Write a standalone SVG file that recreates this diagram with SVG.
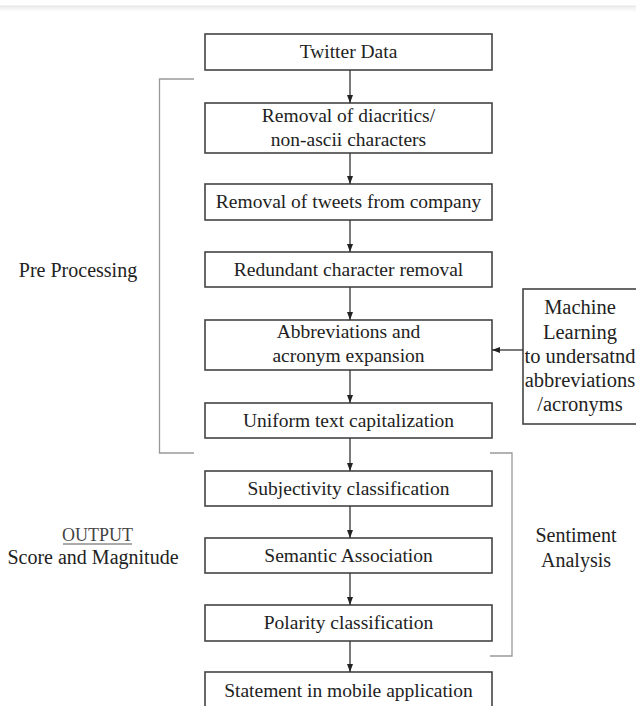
<svg xmlns="http://www.w3.org/2000/svg" width="636" height="706" viewBox="0 0 636 706">
<defs>
<linearGradient id="sh" x1="0" y1="0" x2="0" y2="1"><stop offset="0" stop-color="#ececec"/><stop offset="1" stop-color="#ffffff"/></linearGradient>
<marker id="ah" viewBox="0 0 8 6" refX="8" refY="3" markerWidth="8" markerHeight="6" markerUnits="userSpaceOnUse" orient="auto"><path d="M0,0 L8,3 L0,6 Z" fill="#222"/></marker>
<style>
.box{fill:#fff;stroke:#444;stroke-width:1.6}
.t{font-family:"Liberation Serif","Times New Roman",serif;font-size:19.5px;fill:#222;text-anchor:middle}
.ml{font-size:20.5px}
.c{stroke:#333;stroke-width:1.3;fill:none;marker-end:url(#ah)}
.br{stroke:#999;stroke-width:1.3;fill:none}
</style>
</defs>
<rect x="0" y="0" width="636" height="706" fill="#fff"/>
<rect x="0" y="6" width="636" height="6" fill="url(#sh)"/>
<line x1="0" y1="6" x2="636" y2="6" stroke="#e6e6e6" stroke-width="1"/>

<g id="n1"><rect class="box" x="205" y="34" width="287" height="36"/><text class="t" x="348.5" y="58">Twitter Data</text></g>
<g id="n2"><rect class="box" x="205" y="103" width="287" height="50"/><text class="t" x="348.5" y="122">Removal of diacritics/</text><text class="t" x="348.5" y="146">non-ascii characters</text></g>
<g id="n3"><rect class="box" x="205" y="184" width="287" height="36"/><text class="t" x="348.5" y="208">Removal of tweets from company</text></g>
<g id="n4"><rect class="box" x="205" y="252" width="287" height="35"/><text class="t" x="348.5" y="276">Redundant character removal</text></g>
<g id="n5"><rect class="box" x="205" y="320" width="287" height="50"/><text class="t" x="348.5" y="338">Abbreviations and</text><text class="t" x="348.5" y="362">acronym expansion</text></g>
<g id="n6"><rect class="box" x="205" y="403" width="287" height="35"/><text class="t" x="348.5" y="427">Uniform text capitalization</text></g>
<g id="n7"><rect class="box" x="205" y="471" width="287" height="35"/><text class="t" x="348.5" y="495">Subjectivity classification</text></g>
<g id="n8"><rect class="box" x="205" y="538" width="287" height="35"/><text class="t" x="348.5" y="562">Semantic Association</text></g>
<g id="n9"><rect class="box" x="205" y="605" width="287" height="36"/><text class="t" x="348.5" y="629">Polarity classification</text></g>
<g id="n10"><rect class="box" x="205" y="672" width="287" height="50"/><text class="t" x="348.5" y="697">Statement in mobile application</text></g>
<g id="ml"><rect class="box" x="523" y="289" width="120" height="135"/>
<text class="t ml" x="580" y="314">Machine</text><text class="t ml" x="580" y="339">Learning</text><text class="t ml" x="580" y="363">to undersatnd</text><text class="t ml" x="580" y="387">abbreviations</text><text class="t ml" x="580" y="411">/acronyms</text></g>

<g id="connectors">
<line class="c" x1="350" y1="70" x2="350" y2="103"/>
<line class="c" x1="350" y1="153" x2="350" y2="184"/>
<line class="c" x1="350" y1="220" x2="350" y2="252"/>
<line class="c" x1="350" y1="287" x2="350" y2="320"/>
<line class="c" x1="350" y1="370" x2="350" y2="403"/>
<line class="c" x1="350" y1="438" x2="350" y2="471"/>
<line class="c" x1="350" y1="506" x2="350" y2="538"/>
<line class="c" x1="350" y1="573" x2="350" y2="605"/>
<line class="c" x1="350" y1="641" x2="350" y2="672"/>
<line class="c" x1="523" y1="350" x2="492" y2="350"/>
</g>

<g id="preprocessing">
<path class="br" d="M194,79 H159.5 V453 H194"/>
<text class="t" x="78" y="277" style="font-size:20px">Pre Processing</text>
</g>
<g id="sentiment">
<path class="br" d="M490,453 H512 V656 H490"/>
<text class="t" x="576" y="542" style="font-size:20px">Sentiment</text>
<text class="t" x="576" y="567" style="font-size:20px">Analysis</text>
</g>
<g id="output">
<text class="t" x="97.5" y="541" style="font-size:18px;fill:#444">OUTPUT</text>
<line x1="63" y1="544" x2="132" y2="544" stroke="#555" stroke-width="1"/>
<text class="t" x="93" y="564" style="font-size:20px">Score and Magnitude</text>
</g>
</svg>
